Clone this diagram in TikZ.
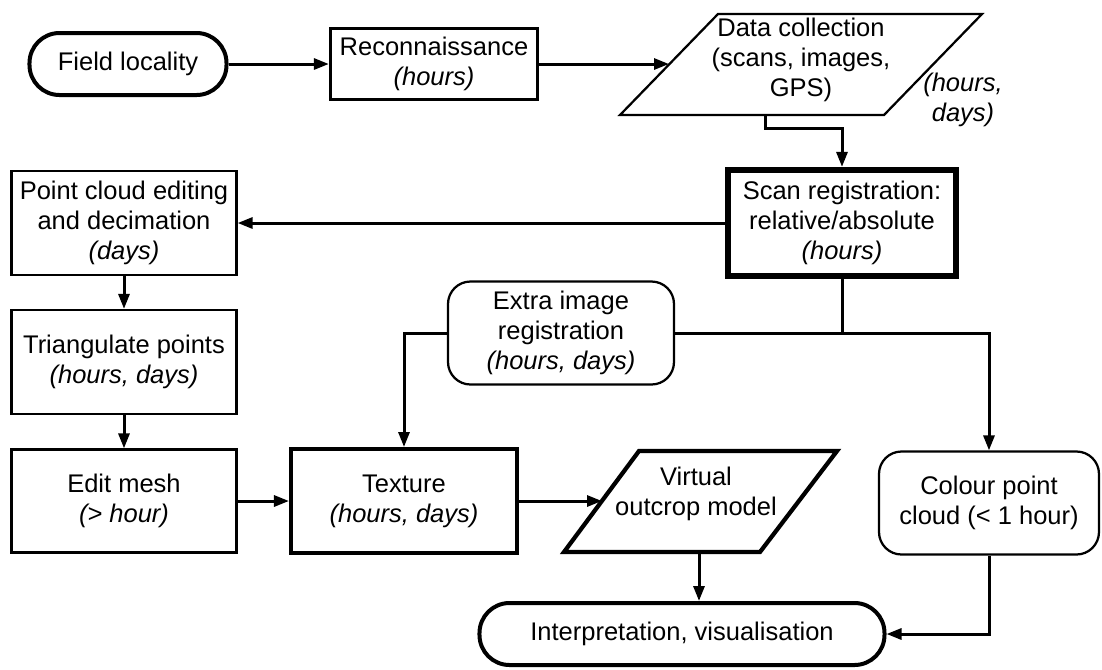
\documentclass[tikz,border=0pt]{standalone}
\usepackage{fontspec}
\setmainfont{Liberation Sans}
\usetikzlibrary{arrows.meta}
\begin{document}
\begin{tikzpicture}[
  x=0.4pt, y=-0.4pt,
  vomtext/.style = {align=center, font=\fontsize{10.2}{12}\selectfont, inner sep=0pt},
  vombox/.style = {vomtext, draw, line width=0.9pt, minimum width=90pt, minimum height=41.6pt},
  vomround/.style = {vombox, rounded corners=9pt},
  vomend/.style = {vomtext, draw, line width=1.6pt, rounded corners=12pt, minimum height=24.8pt},
  vomflow/.style = {line width=1.2pt, -{Triangle[length=6pt,width=4.4pt]}},
  vomline/.style = {line width=1.2pt}
]
  \useasboundingbox (0,0) rectangle (1102,669);
  % top row
  \node[vomend, minimum width=78.8pt] (field) at (128,64) {Field locality};
  \node[vombox, line width=1.3pt, minimum width=82.8pt, minimum height=28.4pt] (recon) at (434,64)
    {Reconnaissance\\\itshape(hours)};
  \draw[line width=0.9pt] (620,115) -- (718,14) -- (982,14) -- (884,115) -- cycle;
  \node[vomtext] (data) at (801,60) {Data collection\\(scans, images,\\GPS)};
  \node[vomtext, font=\fontsize{10.2}{12}\selectfont\itshape] (datatime) at (963,100) {(hours,\\days)};
  \coordinate (data-w) at (669,64);
  \coordinate (data-s) at (765,115);
  % registration
  \node[vombox, line width=2.5pt, minimum width=91.2pt, minimum height=42.4pt] (scan) at (842,223)
    {Scan registration:\\relative/absolute\\\itshape(hours)};
  \node[vomround, minimum width=90.4pt, minimum height=41.2pt] (extra) at (561,333)
    {Extra image\\registration\\\itshape(hours, days)};
  % left column
  \node[vombox] (pcloud) at (124,223) {Point cloud editing\\and decimation\\\itshape(days)};
  \node[vombox] (tri) at (124,362)
    {\raisebox{2.8pt}{\begin{tabular}{@{}c@{}}Triangulate points\\\itshape(hours, days)\end{tabular}}};
  \node[vombox, minimum height=41.2pt] (edit) at (124,501) {Edit mesh\\\itshape(> hour)};
  % bottom row
  \node[vombox, line width=1.6pt, minimum width=90.4pt] (texture) at (404,501)
    {Texture\\\itshape(hours, days)};
  \draw[line width=1.7pt] (564,552) -- (639,451) -- (837,451) -- (760,552) -- cycle;
  \node[vomtext] (virt) at (696,494) {Virtual\\outcrop model};
  \coordinate (virt-w) at (602,501);
  \coordinate (virt-s) at (699,552);
  \node[vomround, minimum width=88pt, minimum height=41.2pt] (colour) at (989,503)
    {Colour point\\cloud (< 1 hour)};
  \node[vomend, minimum width=162pt] (interp) at (682,634) {Interpretation, visualisation};
  % connectors
  \draw[vomflow] (field) -- (recon);
  \draw[vomflow] (recon) -- (data-w);
  \draw[vomflow] (data-s) -- ++(0,13) -| (scan.north);
  \draw[vomflow] (scan) -- (pcloud);
  \draw[vomflow] (pcloud) -- (tri);
  \draw[vomflow] (tri) -- (edit);
  \draw[vomflow] (edit) -- (texture);
  \draw[vomflow] (texture) -- (virt-w);
  \draw[vomflow] (virt-s) -- (virt-s |- interp.north);
  \draw[vomflow] (colour.south) |- (interp.east);
  \coordinate (split) at (scan.south |- extra.east);
  \draw[vomline] (scan.south) -- (split);
  \draw[vomflow] (extra.east) -| (colour.north);
  \draw[vomflow] (extra.west) -| (texture.north);
\end{tikzpicture}
\end{document}
